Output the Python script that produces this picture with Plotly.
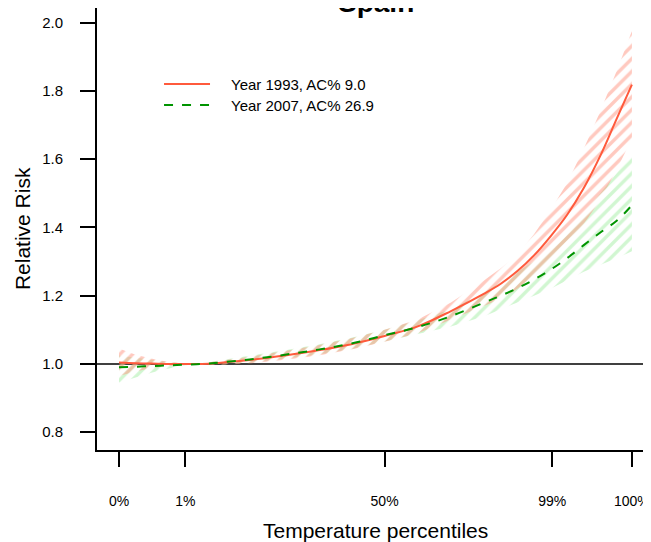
import plotly.graph_objects as go

# Temperature grid (deg C) and the percentile tick positions
temp = [2.0, 3.0, 4.0, 5.0, 6.0, 7.0, 8.0, 10.0, 12.0, 14.0, 16.0, 18.0, 20.0,
        22.0, 24.0, 25.0, 26.0, 27.0, 28.0, 29.0, 30.0, 31.0, 32.0, 32.9]
pct_tick_temp = [2.0, 6.0, 18.0, 28.1, 32.9]
pct_tick_text = ["0%", "1%", "50%", "99%", "100%"]
y_ticks = [0.8, 1.0, 1.2, 1.4, 1.6, 1.8, 2.0]
y_tick_text = ["0.8", "1.0", "1.2", "1.4", "1.6", "1.8", "2.0"]

# Year 1993 (AC% 9.0)
rr_1993 = [1.004, 1.002, 1.001, 1.000, 1.000, 1.000, 1.003, 1.012, 1.025, 1.040, 1.058, 1.082,
           1.110, 1.155, 1.206, 1.235, 1.272, 1.318, 1.374, 1.437, 1.515, 1.610, 1.720, 1.818]
lo_1993 = [0.965, 0.978, 0.988, 0.995, 0.999, 0.998, 0.997, 1.002, 1.012, 1.025, 1.042, 1.065,
           1.090, 1.130, 1.170, 1.190, 1.220, 1.260, 1.300, 1.350, 1.410, 1.480, 1.570, 1.660]
hi_1993 = [1.045, 1.027, 1.015, 1.006, 1.001, 1.002, 1.009, 1.022, 1.038, 1.055, 1.075, 1.100,
           1.130, 1.180, 1.245, 1.280, 1.320, 1.380, 1.450, 1.530, 1.630, 1.740, 1.860, 1.975]

# Year 2007 (AC% 26.9)
rr_2007 = [0.990, 0.992, 0.994, 0.996, 0.998, 1.000, 1.004, 1.014, 1.027, 1.042, 1.060, 1.084,
           1.108, 1.140, 1.180, 1.200, 1.222, 1.247, 1.276, 1.310, 1.348, 1.385, 1.420, 1.465]
lo_2007 = [0.945, 0.960, 0.975, 0.987, 0.996, 0.998, 0.998, 1.004, 1.015, 1.028, 1.044, 1.065,
           1.088, 1.110, 1.140, 1.160, 1.180, 1.200, 1.220, 1.245, 1.270, 1.290, 1.310, 1.330]
hi_2007 = [1.025, 1.018, 1.012, 1.006, 1.001, 1.002, 1.010, 1.024, 1.040, 1.057, 1.077, 1.100,
           1.128, 1.160, 1.210, 1.240, 1.270, 1.300, 1.340, 1.390, 1.440, 1.500, 1.560, 1.620]

labels = ["Year 1993, AC% 9.0", "Year 2007, AC% 26.9"]

RED = "#FF5A3C"
RED_HATCH = "#FF9380"
GREEN = "#009400"
GREEN_HATCH = "#A4EEA4"
FONT = "Liberation Sans, Arial, sans-serif"

fig = go.Figure()


def band(lo, hi, col):
    return go.Scatter(
        x=temp + temp[::-1], y=hi + lo[::-1], mode="lines", fill="toself",
        fillcolor="rgba(0,0,0,0)", line=dict(width=0, color="rgba(0,0,0,0)"),
        fillpattern=dict(shape="/", fgcolor=col, bgcolor="rgba(0,0,0,0)",
                         size=9, solidity=0.38),
        showlegend=False, hoverinfo="skip")


fig.add_trace(band(lo_2007, hi_2007, GREEN_HATCH))
fig.add_trace(band(lo_1993, hi_1993, RED_HATCH))
fig.add_trace(go.Scatter(x=temp, y=rr_1993, mode="lines", name=labels[0],
                         showlegend=False,
                         line=dict(color=RED, width=2, shape="spline")))
fig.add_trace(go.Scatter(x=temp, y=rr_2007, mode="lines", name=labels[1],
                         showlegend=False,
                         line=dict(color=GREEN, width=2, dash="dash", shape="spline")))

# Reference line at RR = 1
fig.add_shape(type="line", xref="paper", yref="y", x0=0, x1=1, y0=1.0, y1=1.0,
              line=dict(color="black", width=1.5), layer="below")

# Legend (keys + labels), drawn in paper coordinates
legend_rows_y = [0.828, 0.7805]
legend_styles = [dict(color=RED, width=2), dict(color=GREEN, width=2, dash="dash")]
for ly, lstyle in zip(legend_rows_y, legend_styles):
    fig.add_shape(type="line", xref="paper", yref="paper", x0=0.121, x1=0.204,
                  y0=ly, y1=ly, line=lstyle)

annotations = [
    dict(text="<b>Spain</b>", xref="paper", yref="paper", x=0.5036, y=1.0,
         xanchor="center", yanchor="bottom", yshift=-12, showarrow=False,
         font=dict(size=28)),
    dict(text="Temperature percentiles", xref="paper", yref="paper",
         x=0.5036, y=-0.181, xanchor="center", yanchor="middle",
         showarrow=False, font=dict(size=21)),
    dict(text="Relative Risk", xref="paper", yref="paper", x=-0.1354, y=0.502,
         xanchor="center", yanchor="middle", textangle=-90,
         showarrow=False, font=dict(size=21)),
]
for ly, lab in zip(legend_rows_y, labels):
    annotations.append(dict(text=lab, xref="paper", yref="paper", x=0.239, y=ly,
                            xanchor="left", yanchor="middle", showarrow=False,
                            font=dict(size=15)))

fig.update_layout(
    width=651, height=542,
    margin=dict(l=89, r=8, t=0, b=100),
    paper_bgcolor="white", plot_bgcolor="white",
    font=dict(family=FONT, size=15, color="black"),
    showlegend=False,
    xaxis=dict(range=[0.675, 34.05], tickmode="array", tickvals=pct_tick_temp,
               ticktext=pct_tick_text, ticks="outside", ticklen=15, tickwidth=1.5,
               tickcolor="black", showline=True, linecolor="black", linewidth=2,
               showgrid=False, zeroline=False, ticklabelstandoff=22,
               tickfont=dict(size=14)),
    yaxis=dict(range=[0.748, 2.0425], tickmode="array", tickvals=y_ticks,
               ticktext=y_tick_text, ticks="outside", ticklen=15, tickwidth=1.5,
               tickcolor="black", showline=True, linecolor="black", linewidth=2,
               showgrid=False, zeroline=False, ticklabelstandoff=14,
               tickfont=dict(size=15)),
    annotations=annotations,
)

fig.write_html("out.html")
